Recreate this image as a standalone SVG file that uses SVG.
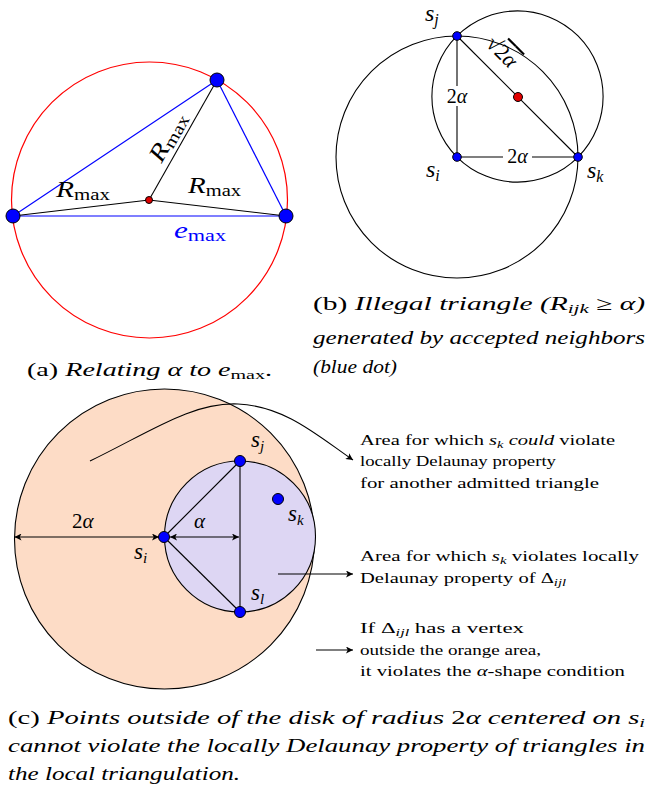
<svg xmlns="http://www.w3.org/2000/svg" width="647" height="789" viewBox="0 0 647 789" font-family="'Liberation Serif', 'DejaVu Serif', serif">
<style>
text, tspan { font-family: 'Liberation Serif', 'DejaVu Serif', serif; }
text { fill: #000; }
.it { font-style: italic; }
.rm { font-style: normal; }
.cap { font-size: 19px; }
.ann { font-size: 15.5px; }
.thin { stroke: #000; stroke-width: 1.1; fill: none; }
.blue { stroke: #0000ff; stroke-width: 1.2; fill: none; }
.bdot { fill: #0000ff; stroke: #000; stroke-width: 1; }
.rdot { fill: #e00000; stroke: #000; stroke-width: 1; }
</style>
<defs>
<marker id="arr" viewBox="0 0 10 10" refX="10" refY="5" markerWidth="8" markerHeight="7" markerUnits="userSpaceOnUse" orient="auto-start-reverse">
<path d="M0,0 L10,5 L0,10 L2.5,5 z" fill="#000"/>
</marker>
</defs>

<!-- Panel (a) -->
<g id="panel-a">
<circle cx="149.5" cy="200" r="138" fill="none" stroke="#ff0000" stroke-width="1.2"/>
<line class="blue" x1="13" y1="216" x2="217" y2="80"/>
<line class="blue" x1="217" y1="80" x2="286" y2="216"/>
<line class="blue" x1="13" y1="216" x2="286" y2="216"/>
<line class="thin" x1="149" y1="200" x2="13" y2="216"/>
<line class="thin" x1="149" y1="200" x2="217" y2="80"/>
<line class="thin" x1="149" y1="200" x2="286" y2="216"/>
<circle class="bdot" cx="13" cy="216" r="7"/>
<circle class="bdot" cx="286" cy="216" r="7"/>
<circle class="bdot" cx="217" cy="80" r="7"/>
<circle class="rdot" cx="149" cy="200" r="3.5"/>
<text class="it" x="56" y="197" font-size="24" textLength="54" lengthAdjust="spacingAndGlyphs">R<tspan class="rm" font-size="17" dy="3">max</tspan></text>
<text class="it" x="188" y="193" font-size="24" textLength="53" lengthAdjust="spacingAndGlyphs">R<tspan class="rm" font-size="17" dy="3">max</tspan></text>
<text class="it" transform="translate(174.5,140.7) rotate(-60.5)" text-anchor="middle" font-size="24" textLength="53" lengthAdjust="spacingAndGlyphs">R<tspan class="rm" font-size="17" dy="3">max</tspan></text>
<text class="it" x="174" y="238" font-size="24" style="fill:#0000ff" textLength="52" lengthAdjust="spacingAndGlyphs">e<tspan class="rm" font-size="17" dy="3">max</tspan></text>
<text class="cap" x="27" y="376" textLength="245" lengthAdjust="spacingAndGlyphs">(a) <tspan class="it">Relating α to e</tspan><tspan font-size="13.5" dy="3">max</tspan><tspan dy="-3">.</tspan></text>
</g>

<!-- Panel (b) -->
<g id="panel-b">
<circle class="thin" cx="457" cy="157" r="121"/>
<circle class="thin" cx="517.5" cy="96.5" r="85.6"/>
<line class="thin" x1="457" y1="36" x2="457" y2="157"/>
<line class="thin" x1="457" y1="157" x2="578" y2="157"/>
<line class="thin" x1="457" y1="36" x2="578" y2="157"/>
<rect x="445" y="86" width="24" height="20" fill="#fff"/>
<rect x="503" y="149" width="29" height="16" fill="#fff"/>
<text x="457" y="103" font-size="20" text-anchor="middle">2<tspan class="it">α</tspan></text>
<text x="517.5" y="163" font-size="20" text-anchor="middle">2<tspan class="it">α</tspan></text>
<text transform="translate(497,57) rotate(45)" font-size="22" text-anchor="middle">√<tspan style="text-decoration:overline">2<tspan class="it">α</tspan></tspan></text>
<circle class="bdot" cx="457" cy="36" r="4.3"/>
<circle class="bdot" cx="457" cy="157" r="4.3"/>
<circle class="bdot" cx="578" cy="157" r="4.3"/>
<circle class="rdot" cx="518" cy="97" r="4.5"/>
<text class="it" x="425" y="21" font-size="24">s<tspan font-size="16" dy="4">j</tspan></text>
<text class="it" x="426" y="177" font-size="24">s<tspan font-size="16" dy="4">i</tspan></text>
<text class="it" x="587" y="178" font-size="24">s<tspan font-size="16" dy="4">k</tspan></text>
<text class="cap it" x="313" y="310" textLength="332" lengthAdjust="spacingAndGlyphs"><tspan class="rm">(b) </tspan>Illegal triangle (R<tspan font-size="13.5" dy="3">ijk</tspan><tspan dy="-3"> ≥ α)</tspan></text>
<text class="cap it" x="313" y="344" textLength="332" lengthAdjust="spacingAndGlyphs">generated by accepted neighbors</text>
<text class="cap it" x="313" y="373" textLength="84" lengthAdjust="spacingAndGlyphs">(blue dot)</text>
</g>

<!-- Panel (c) -->
<g id="disk-orange">
<circle cx="164.5" cy="539" r="150" fill="#fddcc6" stroke="#000" stroke-width="1.1"/>
</g>
<g id="disk-purple">
<circle cx="240" cy="536.5" r="75.5" fill="#ddd6f3" stroke="#000" stroke-width="1.1"/>
</g>
<g id="triangle">
<line class="thin" x1="164" y1="537" x2="240" y2="461"/>
<line class="thin" x1="164" y1="537" x2="240" y2="612"/>
<line class="thin" x1="240" y1="461" x2="240" y2="612"/>
</g>
<g id="connectors">
<line class="thin" x1="14.5" y1="537" x2="159" y2="537" marker-start="url(#arr)" marker-end="url(#arr)"/>
<line class="thin" x1="170" y1="537" x2="239" y2="537" marker-start="url(#arr)" marker-end="url(#arr)"/>
<path class="thin" d="M90,461 C150,432 192,402 238,404 C285,406 318,436 353,460" marker-end="url(#arr)"/>
<line class="thin" x1="278" y1="574" x2="353" y2="574" marker-end="url(#arr)"/>
<line class="thin" x1="316" y1="650" x2="353" y2="650" marker-end="url(#arr)"/>
</g>
<g id="node-si"><circle class="bdot" cx="164" cy="537" r="5.5"/>
<text class="it" x="134" y="559" font-size="23">s<tspan font-size="15" dy="4">i</tspan></text></g>
<g id="node-sj"><circle class="bdot" cx="240" cy="461" r="5.5"/>
<text class="it" x="251" y="447" font-size="23">s<tspan font-size="15" dy="4">j</tspan></text></g>
<g id="node-sl"><circle class="bdot" cx="240" cy="612" r="5.5"/>
<text class="it" x="251" y="600" font-size="23">s<tspan font-size="15" dy="4">l</tspan></text></g>
<g id="node-sk"><circle class="bdot" cx="278" cy="499" r="5.5"/>
<text class="it" x="288" y="521" font-size="23">s<tspan font-size="15" dy="4">k</tspan></text></g>
<g id="labels-c">
<text x="72" y="528" font-size="21">2<tspan class="it">α</tspan></text>
<text class="it" x="194" y="528" font-size="21">α</text>
</g>
<g id="annotations">
<text class="ann" x="360" y="445" textLength="255" lengthAdjust="spacingAndGlyphs">Area for which <tspan class="it">s</tspan><tspan class="it" font-size="11" dy="3">k</tspan><tspan class="it" dy="-3"> could</tspan> violate</text>
<text class="ann" x="360" y="466" textLength="196" lengthAdjust="spacingAndGlyphs">locally Delaunay property</text>
<text class="ann" x="360" y="488" textLength="239" lengthAdjust="spacingAndGlyphs">for another admitted triangle</text>
<text class="ann" x="360" y="561" textLength="279" lengthAdjust="spacingAndGlyphs">Area for which <tspan class="it">s</tspan><tspan class="it" font-size="11" dy="3">k</tspan><tspan dy="-3"> violates locally</tspan></text>
<text class="ann" x="360" y="583" textLength="206" lengthAdjust="spacingAndGlyphs">Delaunay property of Δ<tspan class="it" font-size="11" dy="3">ijl</tspan></text>
<text class="ann" x="360" y="633" textLength="164" lengthAdjust="spacingAndGlyphs">If Δ<tspan class="it" font-size="11" dy="3">ijl</tspan><tspan dy="-3"> has a vertex</tspan></text>
<text class="ann" x="360" y="655" textLength="181" lengthAdjust="spacingAndGlyphs">outside the orange area,</text>
<text class="ann" x="360" y="676" textLength="265" lengthAdjust="spacingAndGlyphs">it violates the <tspan class="it">α</tspan>-shape condition</text>
</g>
<g id="caption-c">
<text class="cap it" x="8" y="724" textLength="637" lengthAdjust="spacingAndGlyphs"><tspan class="rm">(c) </tspan>Points outside of the disk of radius <tspan class="rm">2</tspan>α centered on s<tspan font-size="13.5" dy="3">i</tspan></text>
<text class="cap it" x="8" y="752" textLength="637" lengthAdjust="spacingAndGlyphs">cannot violate the locally Delaunay property of triangles in</text>
<text class="cap it" x="8" y="780" textLength="232" lengthAdjust="spacingAndGlyphs">the local triangulation.</text>
</g>
</svg>
